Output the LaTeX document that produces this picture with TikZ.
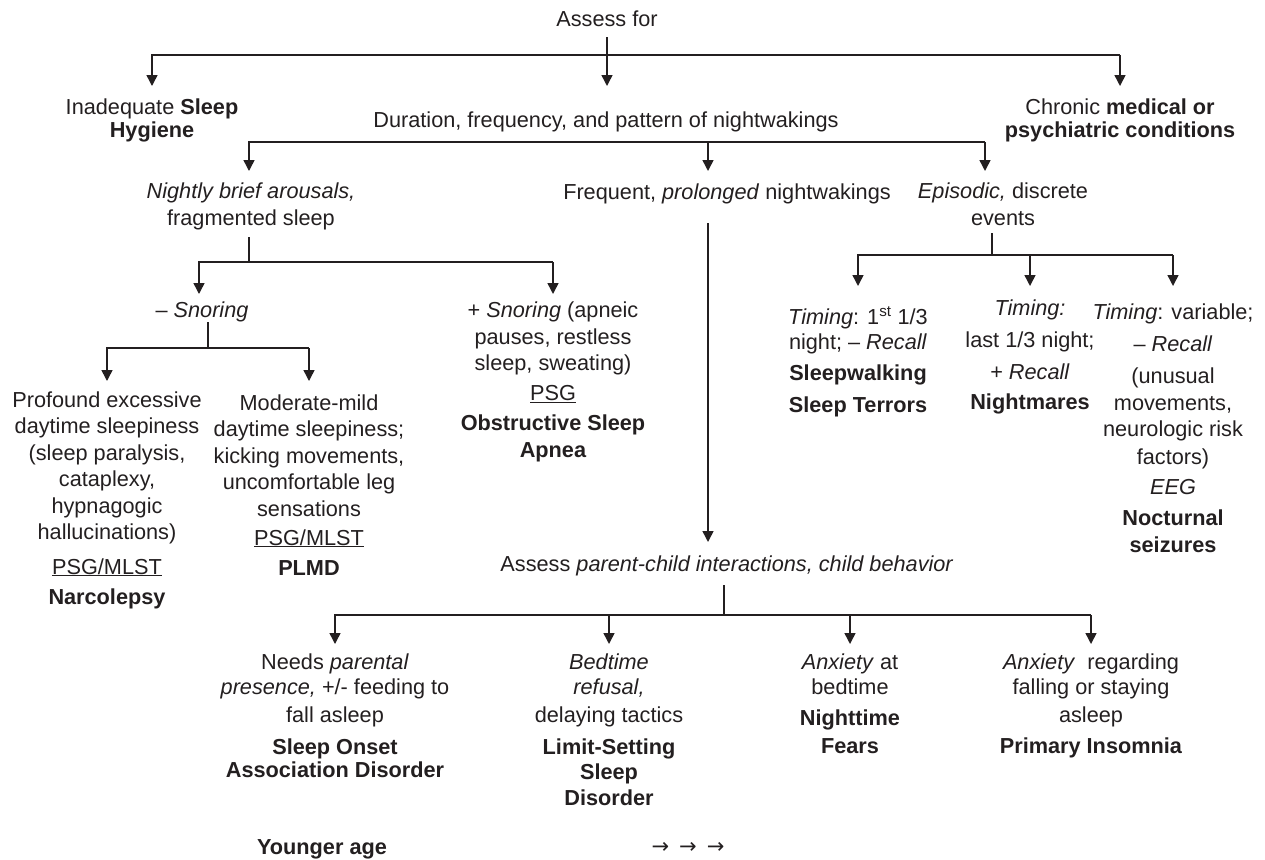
\documentclass[tikz,border=0pt]{standalone}
\usepackage{fontspec}
\setmainfont{Liberation Sans}
\newfontfamily\arrowfont{DejaVu Sans}
\usetikzlibrary{arrows.meta}
\definecolor{ink}{RGB}{35,31,32}
\begin{document}
\begin{tikzpicture}[x=1pt,y=-1pt,
  txt/.style={align=center, inner sep=0pt, anchor=base, text=ink,
              font=\fontsize{21.7}{26.5}\selectfont},
  conn/.style={draw=ink, line width=1.5pt},
  arr/.style={conn, -{Triangle[width=11pt,length=11pt]}}]
\useasboundingbox (0,0) rectangle (1265,859);

% ---------- nodes (anchored at the baseline of their last line) ----------
\node[txt] (assess) at (607,27) {Assess for};
\node[txt] (hyg) at (152,137) {Inadequate \textbf{Sleep}\\[-3.5pt]\textbf{Hygiene}};
\node[txt] (chronic) at (1120,137) {Chronic \textbf{medical or}\\[-3.5pt]\textbf{psychiatric conditions}};
\node[txt] (dur) at (606,127) {Duration, frequency, and pattern of nightwakings};

\node[txt] (nightly) at (251,225) {\textit{Nightly brief arousals,}\\fragmented sleep};
\node[txt] (freq) at (727,199) {Frequent, \textit{prolonged} nightwakings};
\node[txt] (epis) at (1003,225) {\textit{Episodic,} discrete\\events};

\node[txt] (snor) at (202,317) {– \textit{Snoring}};
\node[txt] (psnor) at (553,457) {+ \textit{Snoring} (apneic\\pauses, restless\\sleep, sweating)\\[3.5pt]\underline{PSG}\\[3.5pt]\textbf{Obstructive Sleep}\\\textbf{Apnea}};

\node[txt] (prof) at (107,604) {Profound excessive\\daytime sleepiness\\(sleep paralysis,\\cataplexy,\\hypnagogic\\hallucinations)\\[8pt]\underline{PSG/MLST}\\[3.5pt]\textbf{Narcolepsy}};
\node[txt] (mod) at (309,575) {Moderate-mild\\daytime sleepiness;\\kicking movements,\\uncomfortable leg\\sensations\\[2.5pt]\underline{PSG/MLST}\\[3.5pt]\textbf{PLMD}};

\node[txt] (t1) at (858,412) {\textit{Timing}: 1\textsuperscript{st} 1/3\\[-1.5pt]night; – \textit{Recall}\\[4.5pt]\textbf{Sleepwalking}\\[5.5pt]\textbf{Sleep Terrors}};
\node[txt] (t2) at (1030,409) {\textit{Timing:}\\[5.5pt]last 1/3 night;\\[5.5pt]+ \textit{Recall}\\[3.5pt]\textbf{Nightmares}};
\node[txt] (t3) at (1173,552) {\textit{Timing}: variable;\\[5.5pt]– \textit{Recall}\\[5.5pt](unusual\\movements,\\neurologic risk\\[1.5pt]factors)\\[3.5pt]\textit{EEG}\\[4.5pt]\textbf{Nocturnal}\\\textbf{seizures}};

\node[txt] (par) at (727,571) {Assess \textit{parent-child interactions, child behavior}};

\node[txt] (n1) at (335,777) {Needs \textit{parental}\\[-1.5pt]\textit{presence,} +/- feeding to\\[1.5pt]fall asleep\\[5.5pt]\textbf{Sleep Onset}\\[-3.5pt]\textbf{Association Disorder}};
\node[txt] (n2) at (609,805) {\textit{Bedtime}\\[-1.5pt]\textit{refusal,}\\[1.5pt]delaying tactics\\[5.5pt]\textbf{Limit-Setting}\\[-1.5pt]\textbf{Sleep}\\[-0.5pt]\textbf{Disorder}};
\node[txt] (n3) at (850,753) {\textit{Anxiety} at\\[-1.5pt]bedtime\\[4.5pt]\textbf{Nighttime}\\[1.5pt]\textbf{Fears}};
\node[txt] (n4) at (1091,753) {\textit{Anxiety}\ \ regarding\\[-1.5pt]falling or staying\\[1.5pt]asleep\\[4.5pt]\textbf{Primary Insomnia}};

\node[txt] (young) at (322,854) {\textbf{Younger age}};
\node[txt, font=\arrowfont\fontsize{21}{26.5}\selectfont] (older) at (688,853) {→\hspace{10pt}→\hspace{10pt}→};

% ---------- level coordinates ----------
\coordinate (busA) at (0,55);   \coordinate (tipA) at (0,86);
\coordinate (tipB) at (0,171);
\coordinate (dB1) at (249,142); \coordinate (dB2) at (708,142); \coordinate (dB3) at (985,142);
\coordinate (jC) at (249,262);  \coordinate (tipC) at (0,294);
\coordinate (cL) at (199,262);  \coordinate (cR) at (553,262);
\coordinate (jD) at (208,348);  \coordinate (tipD) at (0,381);
\coordinate (jE) at (992,255);  \coordinate (tipE) at (0,286);
\coordinate (jF) at (724,615);  \coordinate (tipF) at (0,644);

% ---------- connectors ----------
\draw[arr] (assess.south) ++(0,10) -- (assess |- tipA);
\draw[arr] (chronic |- busA) -- (hyg |- busA) -- (hyg |- tipA);
\draw[arr] (chronic |- busA) -- (chronic |- tipA);

\draw[arr] (dB3) -- (dB1) -- (dB1 |- tipB);
\draw[arr] (dB2) -- (dB2 |- tipB);
\draw[arr] (dB3) -- (dB3 |- tipB);

\draw[conn] (249,237) -- (jC);
\draw[arr] (cR) -- (cL) -- (cL |- tipC);
\draw[arr] (cR) -- (cR |- tipC);

\draw[conn] (208,322) -- (jD);
\draw[arr] (mod |- jD) -- (prof |- jD) -- (prof |- tipD);
\draw[arr] (mod |- jD) -- (mod |- tipD);

\draw[conn] (992,233) -- (jE);
\draw[arr] (t3 |- jE) -- (t1 |- jE) -- (t1 |- tipE);
\draw[arr] (t2 |- jE) -- (t2 |- tipE);
\draw[arr] (t3 |- jE) -- (t3 |- tipE);

\draw[arr] (708,223) -- (708,542);

\draw[conn] (724,585) -- (jF);
\draw[arr] (n4 |- jF) -- (n1 |- jF) -- (n1 |- tipF);
\draw[arr] (n2 |- jF) -- (n2 |- tipF);
\draw[arr] (n3 |- jF) -- (n3 |- tipF);
\draw[arr] (n4 |- jF) -- (n4 |- tipF);
\end{tikzpicture}
\end{document}
